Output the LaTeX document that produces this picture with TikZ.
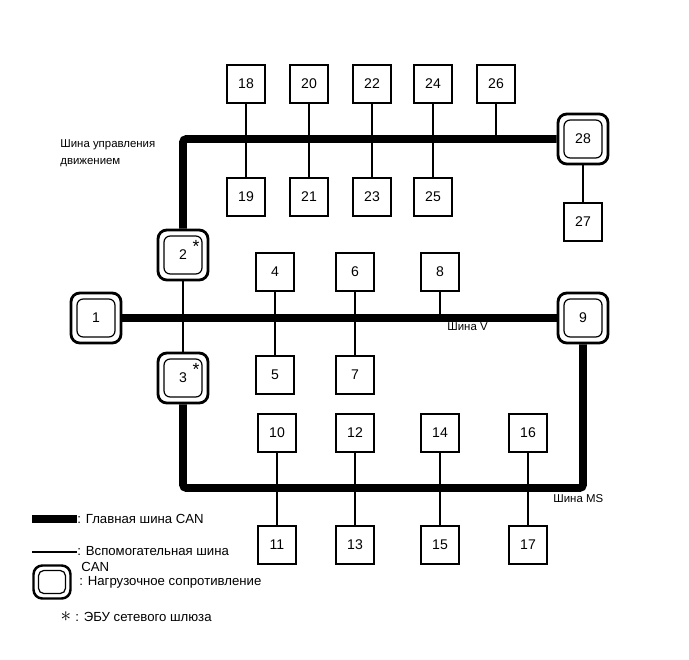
\documentclass[tikz,border=0pt]{standalone}
\usepackage{fontspec}
\setmainfont{Liberation Sans}
\usetikzlibrary{positioning,calc}

\begin{document}
\begin{tikzpicture}[x=0.02cm,y=-0.02cm,
  ecu/.style={draw,fill=white,line width=0.8pt,minimum size=0.76cm,inner sep=0pt,
    font=\fontsize{8}{9}\selectfont},
  term/.style={draw,fill=white,line width=1.6pt,rounded corners=5pt,minimum size=1cm,
    inner sep=0pt,font=\fontsize{8}{9}\selectfont,
    path picture={\draw[line width=0.7pt,rounded corners=3.5pt]
      ([shift={(0.12cm,-0.12cm)}]path picture bounding box.north west) rectangle
      ([shift={(-0.12cm,0.12cm)}]path picture bounding box.south east);}},
  gwmark/.style={inner sep=0pt,font=\fontsize{10}{10}\selectfont},
  mainbus/.style={line width=4.5pt,rounded corners=2pt},
  subbus/.style={line width=1.1pt},
  buslbl/.style={anchor=west,inner sep=0pt,font=\fontsize{6.5}{7}\selectfont},
  legtxt/.style={anchor=west,inner sep=0pt,font=\fontsize{7.5}{8}\selectfont}]
  \useasboundingbox (0,0) rectangle (689,659);

  % --- Blocs ECU ---
  \foreach \n/\x/\y in {18/246/84,20/309/84,22/372/84,24/433/84,26/496/84,
      19/246/197,21/309/197,23/372/197,25/433/197,27/583/222,
      4/275/272,6/355/272,8/440/272,5/275/375,7/355/375,
      10/277/433,12/355/433,14/440/433,16/528/433,
      11/277/545,13/355/545,15/440/545,17/528/545}
    \node[ecu] (n\n) at (\x,\y) {\n};

  % --- Resistances de terminaison ---
  \node[term] (n28) at (583,139) {28};
  \node[term] (n2) at (183,255) {2};
  \node[term] (n1) at (96,318) {1};
  \node[term] (n9) at (583,318) {9};
  \node[term] (n3) at (183,378) {3};
  \node[gwmark] (g2) at ([shift={(13,-9)}]n2.center) {*};
  \node[gwmark] (g3) at ([shift={(13,-9)}]n3.center) {*};

  % --- Derivations ---
  \foreach \a/\b in {18/19,20/21,22/23,24/25,28/27,2/3,4/5,6/7,10/11,12/13,14/15,16/17}
    \draw[subbus] (n\a.south) -- (n\b.north);
  \draw[subbus] (n26.south) -- (n26.south |- n28.west);
  \draw[subbus] (n8.south) -- (n8.south |- n1.east);

  % --- Bus principaux ---
  \coordinate (msc) at (583,488);
  \draw[mainbus] (n28.west) -| (n2.north);
  \draw[mainbus] (n1.east) -- (n9.west);
  \draw[mainbus] (n3.south) |- (msc) -- (n9.south);

  \node[buslbl] (lctl1) at (60,145) {Шина управления};
  \node[buslbl] (lctl2) at (60,163) {движением};
  \node[buslbl] (lv) at (447,327) {Шина V};
  \node[buslbl] (lms) at (553,499) {Шина MS};

  % --- Legende ---
  \draw[line width=4.5pt] (32,519) -- (77,519);
  \node[legtxt] (t1) at (77,519) {: Главная шина CAN};
  \draw[subbus] (32,552) -- (77,552);
  \node[legtxt] (t2) at (77,551) {: Вспомогательная шина};
  \node[legtxt] (t2b) at (81,567) {CAN};
  \node[term,minimum width=0.74cm,minimum height=0.66cm,line width=1.4pt,
    path picture={\draw[line width=0.7pt,rounded corners=3pt]
      ([shift={(0.1cm,-0.1cm)}]path picture bounding box.north west) rectangle
      ([shift={(-0.1cm,0.1cm)}]path picture bounding box.south east);}]
    (lt) at (52,582) {};
  \node[legtxt] (t3) at (79,582) {: Нагрузочное сопротивление};
  \node[gwmark,font=\fontsize{12}{12}\selectfont] (ls) at (66,617) {$\ast$};
  \node[legtxt] (t4) at (75,617) {: ЭБУ сетевого шлюза};
\end{tikzpicture}
\end{document}
